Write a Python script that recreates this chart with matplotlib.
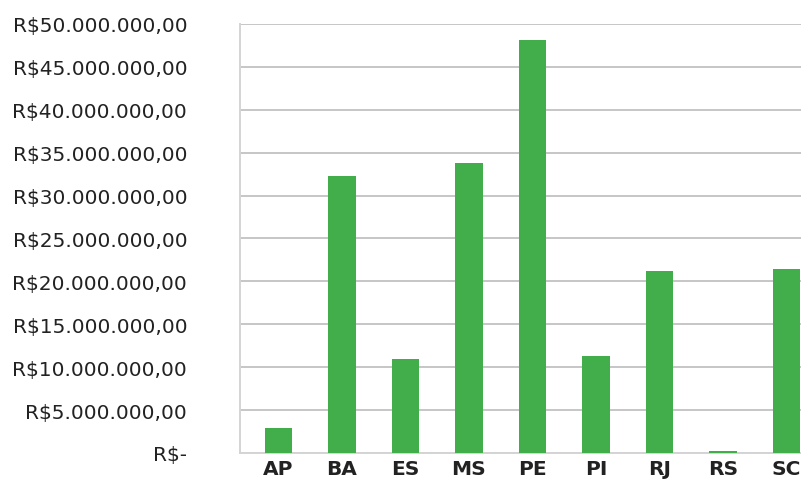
import matplotlib
matplotlib.use("Agg")
import matplotlib.pyplot as plt
from matplotlib.ticker import FuncFormatter

# dados
estados = ["AP", "BA", "ES", "MS", "PE", "PI", "RJ", "RS", "SC"]
valores = [2.9e6, 32.3e6, 10.9e6, 33.8e6, 48.1e6, 11.35e6, 21.2e6, 0.2e6, 21.45e6]
ticks_y = [0, 5e6, 10e6, 15e6, 20e6, 25e6, 30e6, 35e6, 40e6, 45e6, 50e6]


def formato_real(v, pos):
    """ formata o valor como moeda brasileira """
    if v == 0:
        return "R$-"
    s = f"{v:,.2f}".replace(",", "X").replace(".", ",").replace("X", ".")
    return "R$" + s


plt.rcParams["font.family"] = ["DejaVu Sans"]

fig = plt.figure(figsize=(8.01, 4.81), dpi=100)
W, H = 801, 481
ax = fig.add_axes([240 / W, 1 - 454 / H, (801 - 240) / W, (454 - 25) / H])

x = list(range(len(estados)))
ax.bar(x, valores, width=0.43, color="#41ae4b", zorder=3)

ax.set_ylim(0, 50e6)
ax.set_xlim(-0.606, 8.23)
ax.set_yticks(ticks_y)
ax.yaxis.set_major_formatter(FuncFormatter(formato_real))
ax.set_xticks(x)
ax.set_xticklabels(estados, fontweight="bold")

ax.grid(axis="y", color="#c6c6c6", linewidth=1.4, zorder=0)
for lado in ["top", "right"]:
    ax.spines[lado].set_visible(False)
ax.spines["left"].set_color("#d4d4d4")
ax.spines["left"].set_linewidth(1.4)
ax.spines["bottom"].set_color("#d4d4d4")
ax.spines["bottom"].set_linewidth(1.4)

ax.tick_params(axis="y", length=0, pad=38, labelsize=14.5, labelcolor="#222222")
ax.tick_params(axis="x", length=0, pad=4, labelsize=14.5, labelcolor="#222222")

fig.savefig("out.png", dpi=100)
